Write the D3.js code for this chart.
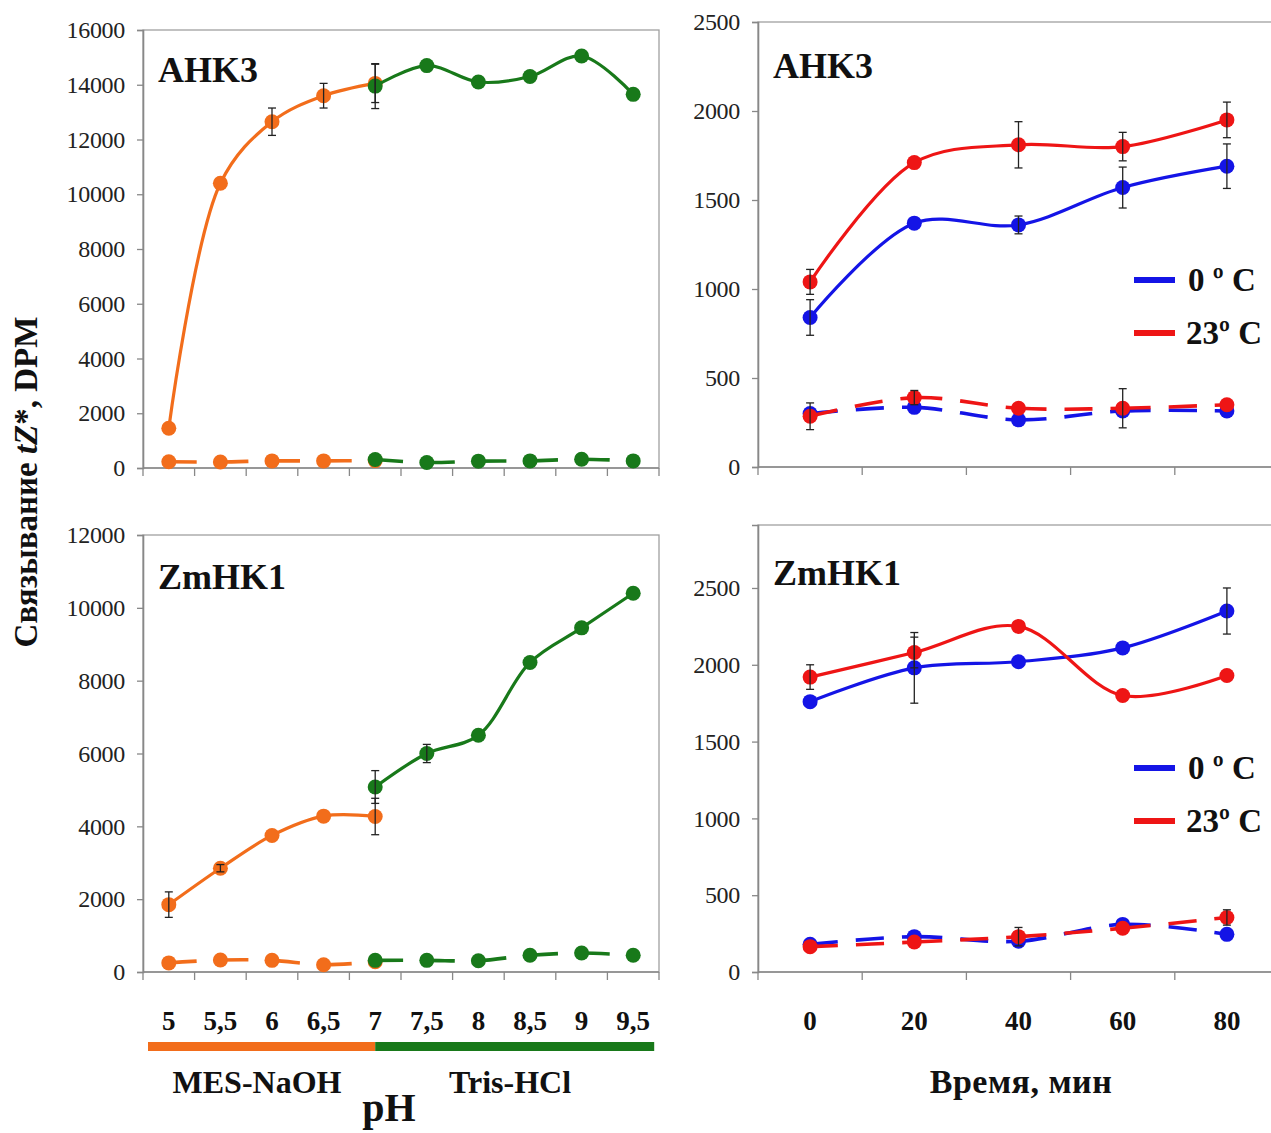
<!DOCTYPE html>
<meta charset="utf-8">
<style>
  body { margin: 0; background: #fff; }
  svg text { font-family: "Liberation Serif", "Times New Roman", serif; }
  .bold { font-weight: bold; fill: #111; }
</style>
<body>
<script src="https://cdn.jsdelivr.net/npm/d3@7"></script>
<script>
// categories
var phCats = ["5", "5,5", "6", "6,5", "7", "7,5", "8", "8,5", "9", "9,5"];
var mesCats = ["5", "5,5", "6", "6,5", "7"];
var trisCats = ["7", "7,5", "8", "8,5", "9", "9,5"];
var timeCats = ["0", "20", "40", "60", "80"];

// AHK3, pH
var ahk3MesSolid = [1450, 10400, 12650, 13600, 14050];
var ahk3MesSolidErr = [0, 0, 500, 450, 700];
var ahk3TrisSolid = [13950, 14700, 14100, 14300, 15050, 13650];
var ahk3TrisSolidErr = [820, 0, 0, 0, 0, 0];
var ahk3MesDashed = [230, 220, 260, 260, 270];
var ahk3TrisDashed = [310, 200, 250, 260, 320, 260];

// ZmHK1, pH
var zmMesSolid = [1850, 2850, 3750, 4280, 4270];
var zmMesSolidErr = [350, 100, 0, 0, 500];
var zmTrisSolid = [5080, 6000, 6500, 8500, 9450, 10400];
var zmTrisSolidErr = [450, 250, 0, 0, 0, 0];
var zmMesDashed = [250, 330, 320, 200, 280];
var zmTrisDashed = [320, 320, 310, 460, 520, 460];

// AHK3, time
var ahk3Cold = [840, 1370, 1360, 1570, 1690];
var ahk3ColdErr = [100, 0, 50, 115, 125];
var ahk3Warm = [1040, 1710, 1810, 1800, 1950];
var ahk3WarmErr = [70, 0, 130, 80, 100];
var ahk3ColdDashed = [300, 335, 265, 315, 315];
var ahk3WarmDashed = [285, 390, 330, 330, 350];
var ahk3WarmDashedErr = [75, 40, 0, 110, 0];

// ZmHK1, time
var zmCold = [1760, 1980, 2020, 2110, 2350];
var zmColdErr = [0, 230, 0, 0, 150];
var zmWarm = [1920, 2080, 2250, 1800, 1930];
var zmWarmErr = [80, 100, 0, 0, 0];
var zmColdDashed = [180, 230, 200, 310, 245];
var zmWarmDashed = [165, 195, 230, 285, 355];
var zmWarmDashedErr = [0, 0, 60, 0, 50];

var ticksAhk3Ph = [0, 2000, 4000, 6000, 8000, 10000, 12000, 14000, 16000];
var ticksZmPh = [0, 2000, 4000, 6000, 8000, 10000, 12000];
var ticksTime = [0, 500, 1000, 1500, 2000, 2500];

var orange = "#f26d1b", green = "#18791a", blue = "#1414e6", red = "#ee1515";

var svg = d3.select("body").append("svg")
    .attr("width", 1271)
    .attr("height", 1133);

// dash pattern that starts again at every data point (like Excel does)
function restartDashes(node, xs, dash, gap) {
    var total = node.getTotalLength();
    var lens = xs.map(function(tx, i) {
        if (i === 0) return 0;
        if (i === xs.length - 1) return total;
        var lo = 0, hi = total;
        for (var k = 0; k < 30; k++) {
            var mid = (lo + hi) / 2;
            if (node.getPointAtLength(mid).x < tx) lo = mid; else hi = mid;
        }
        return (lo + hi) / 2;
    });
    var arr = [];
    for (var i = 1; i < lens.length; i++) {
        var s = lens[i] - lens[i - 1], t = 0, on = true;
        while (t < s - 0.01) {
            var len = Math.min(on ? dash : gap, s - t);
            var wantOn = arr.length % 2 === 0;
            if (wantOn !== on) arr.push(0);
            arr.push(len);
            t += len;
            on = !on;
        }
    }
    if (arr.length % 2 === 1) arr.push(total);
    return arr.join(",");
}

function drawPanel(p) {
    var g = svg.append("g");
    var x = d3.scaleBand().domain(p.cats).range([p.left, p.right]).paddingInner(0).paddingOuter(0);
    var y = d3.scaleLinear().domain([0, p.yMax]).range([p.bottom, p.top]);
    var cx = function(c) { return x(c) + x.bandwidth() / 2; };

    // plot frame
    g.append("rect")
        .attr("x", p.left).attr("y", p.top)
        .attr("width", p.right - p.left).attr("height", p.bottom - p.top)
        .attr("fill", "white").attr("stroke", "#a0a0a0").attr("stroke-width", 1.3);

    // y axis
    var ya = g.append("g")
        .attr("transform", "translate(" + p.left + ",0)")
        .call(d3.axisLeft(y).tickValues(p.yTicks).tickSize(6).tickPadding(12).tickFormat(d3.format("d")));
    ya.attr("font-family", null);
    ya.select(".domain").attr("stroke", "#888").attr("stroke-width", 1.6);
    ya.selectAll(".tick line").attr("stroke", "#888").attr("stroke-width", 1.3);
    ya.selectAll(".tick text")
        .attr("font-family", "Liberation Serif, serif")
        .attr("font-size", 24).attr("letter-spacing", -0.3).attr("fill", "#222");

    // x axis: ticks on category boundaries
    var bounds = p.cats.map(function(c) { return x(c); }).concat([p.right]);
    g.append("line")
        .attr("x1", p.left).attr("x2", p.right).attr("y1", p.bottom).attr("y2", p.bottom)
        .attr("stroke", "#888").attr("stroke-width", 1.6);
    g.selectAll(".xt").data(bounds).enter().append("line")
        .attr("x1", function(d) { return d; }).attr("x2", function(d) { return d; })
        .attr("y1", p.bottom).attr("y2", p.bottom + 8)
        .attr("stroke", "#888").attr("stroke-width", 1.3);
    if (p.xLabels) {
        g.selectAll(".xl").data(p.cats).enter().append("text")
            .attr("class", "bold")
            .attr("x", cx).attr("y", p.bottom + 58)
            .attr("text-anchor", "middle")
            .attr("font-size", 27)
            .text(function(d) { return d; });
    }

    var line = d3.line()
        .x(function(d) { return cx(d.c); })
        .y(function(d) { return y(d.v); })
        .curve(d3.curveCatmullRom.alpha(0.5));

    p.series.forEach(function(s) {
        var pts = s.cats.map(function(c, i) { return {c: c, v: s.values[i], e: s.err ? s.err[i] : 0}; });
        var path = g.append("path").datum(pts)
            .attr("d", line)
            .attr("fill", "none")
            .attr("stroke", s.color)
            .attr("stroke-width", s.dashed ? 3.6 : 3.2);
        if (s.dashed) {
            path.attr("stroke-dasharray", restartDashes(path.node(), pts.map(function(d) { return cx(d.c); }), 28, 18));
        }
        g.selectAll(null).data(pts).enter().append("circle")
            .attr("cx", function(d) { return cx(d.c); })
            .attr("cy", function(d) { return y(d.v); })
            .attr("r", 7.5)
            .attr("fill", s.color);
        s.pts = pts;
    });

    // error bars on top
    p.series.forEach(function(s) {
        var eb = s.pts.filter(function(d) { return d.e > 0; });
        var gg = g.selectAll(null).data(eb).enter().append("g")
            .attr("stroke", "#222").attr("stroke-width", 1.3);
        gg.append("line")
            .attr("x1", function(d) { return cx(d.c); }).attr("x2", function(d) { return cx(d.c); })
            .attr("y1", function(d) { return y(d.v - d.e); }).attr("y2", function(d) { return y(d.v + d.e); });
        [-1, 1].forEach(function(sg) {
            gg.append("line")
                .attr("x1", function(d) { return cx(d.c) - 4; }).attr("x2", function(d) { return cx(d.c) + 4; })
                .attr("y1", function(d) { return y(d.v + sg * d.e); }).attr("y2", function(d) { return y(d.v + sg * d.e); });
        });
    });

    // panel name
    g.append("text").attr("class", "bold")
        .attr("x", p.left + 15).attr("y", p.labelY)
        .attr("font-size", 36)
        .text(p.label);

    // legend
    if (p.legend) {
        p.legend.forEach(function(l, i) {
            var ly = p.legendY + i * 53;
            g.append("line")
                .attr("x1", 1134).attr("x2", 1175).attr("y1", ly).attr("y2", ly)
                .attr("stroke", l.color).attr("stroke-width", 6);
            g.append("text").attr("class", "bold")
                .attr("x", l.tx).attr("y", ly + 11)
                .attr("font-size", 33)
                .text(l.text);
        });
    }
    return {x: x, y: y, cx: cx};
}

drawPanel({
    left: 143, right: 659, top: 30, bottom: 468, yMax: 16000, yTicks: ticksAhk3Ph,
    cats: phCats, label: "AHK3", labelY: 82,
    series: [
        {cats: mesCats, values: ahk3MesDashed, color: orange, dashed: true},
        {cats: trisCats, values: ahk3TrisDashed, color: green, dashed: true},
        {cats: mesCats, values: ahk3MesSolid, err: ahk3MesSolidErr, color: orange},
        {cats: trisCats, values: ahk3TrisSolid, err: ahk3TrisSolidErr, color: green}
    ]
});

var pZm = drawPanel({
    left: 143, right: 659, top: 535, bottom: 972, yMax: 12000, yTicks: ticksZmPh,
    cats: phCats, label: "ZmHK1", labelY: 589, xLabels: true,
    series: [
        {cats: mesCats, values: zmMesDashed, color: orange, dashed: true},
        {cats: trisCats, values: zmTrisDashed, color: green, dashed: true},
        {cats: mesCats, values: zmMesSolid, err: zmMesSolidErr, color: orange},
        {cats: trisCats, values: zmTrisSolid, err: zmTrisSolidErr, color: green}
    ]
});

var legendItems = [
    {text: "0 º C", color: blue, tx: 1188},
    {text: "23º C", color: red, tx: 1186}
];

drawPanel({
    left: 758, right: 1279, top: 22, bottom: 467, yMax: 2500, yTicks: ticksTime,
    cats: timeCats, label: "AHK3", labelY: 78,
    legend: legendItems, legendY: 280,
    series: [
        {cats: timeCats, values: ahk3ColdDashed, color: blue, dashed: true},
        {cats: timeCats, values: ahk3WarmDashed, err: ahk3WarmDashedErr, color: red, dashed: true},
        {cats: timeCats, values: ahk3Cold, err: ahk3ColdErr, color: blue},
        {cats: timeCats, values: ahk3Warm, err: ahk3WarmErr, color: red}
    ]
});

drawPanel({
    left: 758, right: 1279, top: 525, bottom: 972, yMax: 2910, yTicks: ticksTime,
    cats: timeCats, label: "ZmHK1", labelY: 585, xLabels: true,
    legend: legendItems, legendY: 768,
    series: [
        {cats: timeCats, values: zmColdDashed, color: blue, dashed: true},
        {cats: timeCats, values: zmWarmDashed, err: zmWarmDashedErr, color: red, dashed: true},
        {cats: timeCats, values: zmCold, err: zmColdErr, color: blue},
        {cats: timeCats, values: zmWarm, err: zmWarmErr, color: red}
    ]
});

// buffer bars under the pH axis
var x = pZm.x, cx = pZm.cx;
svg.append("rect")
    .attr("x", x("5") + 5).attr("y", 1042)
    .attr("width", cx("7") - x("5") - 5).attr("height", 9)
    .attr("fill", orange);
svg.append("rect")
    .attr("x", cx("7")).attr("y", 1042)
    .attr("width", cx("9,5") + 21 - cx("7")).attr("height", 9)
    .attr("fill", green);

svg.append("text").attr("class", "bold").attr("x", 257).attr("y", 1093)
    .attr("text-anchor", "middle").attr("font-size", 32).text("MES-NaOH");
svg.append("text").attr("class", "bold").attr("x", 510).attr("y", 1093)
    .attr("text-anchor", "middle").attr("font-size", 32).text("Tris-HCl");
svg.append("text").attr("class", "bold").attr("x", 389).attr("y", 1121)
    .attr("text-anchor", "middle").attr("font-size", 40).text("pH");
svg.append("text").attr("class", "bold").attr("x", 1021).attr("y", 1093)
    .attr("text-anchor", "middle").attr("font-size", 34).attr("letter-spacing", 0.5).text("Время, мин");

// y axis title
var yt = svg.append("text").attr("class", "bold")
    .attr("transform", "translate(37,482) rotate(-90)")
    .attr("text-anchor", "middle")
    .attr("font-size", 33);
yt.append("tspan").text("Связывание ");
yt.append("tspan").attr("font-style", "italic").text("tZ");
yt.append("tspan").text("*, DPM");
</script>
</body>
